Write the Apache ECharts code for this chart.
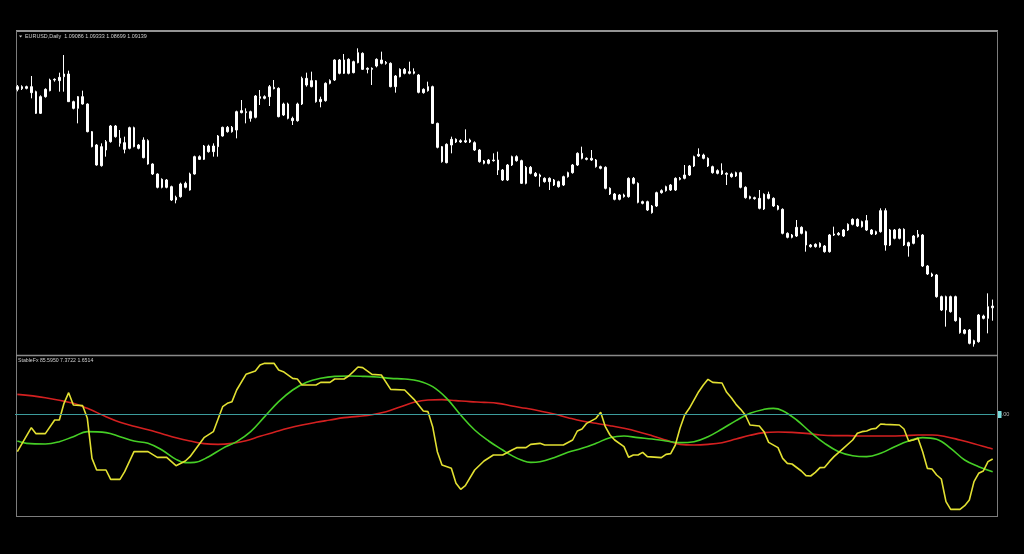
<!DOCTYPE html>
<html><head><meta charset="utf-8">
<script src="https://cdn.jsdelivr.net/npm/echarts@6/dist/echarts.min.js"></script>
<style>html,body{margin:0;padding:0;background:#000;}#c{width:1024px;height:554px;}</style>
</head><body><div id="c"></div>
<script>
const titleText = 'EURUSD,Daily  1.09086 1.09333 1.08699 1.09139';
const indicatorText = 'StableFx 85.5950 7.3722 1.6514';
const levelLabel = '0.00';
const levelValue = 0;

const opens = [
1.1564,1.1572,1.1567,1.1572,1.1557,1.1492,1.1542,1.1560,1.1592,1.1590,
1.1602,1.1610,1.1527,1.1507,1.1542,1.1520,1.1437,1.1397,1.1335,1.1382,
1.1407,1.1454,1.1417,1.1404,1.1387,1.1449,1.1397,1.1359,1.1410,1.1340,
1.1310,1.1270,1.1292,1.1272,1.1232,1.1242,1.1270,1.1262,1.1310,1.1362,
1.1354,1.1394,1.1377,1.1392,1.1424,1.1450,1.1437,1.1442,1.1494,1.1497,
1.1497,1.1480,1.1542,1.1537,1.1542,1.1570,1.1567,1.1487,1.1520,1.1477,
1.1470,1.1520,1.1597,1.1572,1.1590,1.1527,1.1530,1.1582,1.1592,1.1652,
1.1612,1.1654,1.1614,1.1644,1.1672,1.1624,1.1627,1.1634,1.1652,1.1642,
1.1642,1.1572,1.1602,1.1624,1.1612,1.1617,1.1607,1.1554,1.1560,1.1572,
1.1462,1.1392,1.1344,1.1397,1.1414,1.1406,1.1410,1.1406,1.1404,1.1382,
1.1349,1.1342,1.1352,1.1352,1.1322,1.1292,1.1337,1.1362,1.1350,1.1282,
1.1330,1.1312,1.1307,1.1297,1.1287,1.1292,1.1287,1.1277,1.1302,1.1314,
1.1337,1.1372,1.1357,1.1352,1.1352,1.1332,1.1330,1.1267,1.1250,1.1234,
1.1247,1.1242,1.1297,1.1282,1.1227,1.1227,1.1214,1.1214,1.1254,1.1260,
1.1277,1.1262,1.1297,1.1297,1.1307,1.1334,1.1364,1.1367,1.1357,1.1332,
1.1320,1.1310,1.1312,1.1310,1.1304,1.1314,1.1270,1.1242,1.1239,1.1237,
1.1205,1.1249,1.1237,1.1214,1.1204,1.1132,1.1120,1.1124,1.1150,1.1137,
1.1097,1.1092,1.1102,1.1094,1.1077,1.1127,1.1128,1.1124,1.1142,1.1159,
1.1174,1.1152,1.1170,1.1142,1.1130,1.1137,1.1200,1.1097,1.1142,1.1117,
1.1144,1.1104,1.1102,1.1122,1.1127,1.1034,1.1010,1.1007,1.0942,1.0902,
1.0942,1.0942,1.0877,1.0842,1.0842,1.0800,1.0807,1.0884,1.0877,1.09086];

const closes = [
1.1572,1.1566,1.1572,1.1554,1.1492,1.1542,1.1564,1.1592,1.1594,1.1600,
1.1610,1.1527,1.1507,1.1542,1.1520,1.1437,1.1392,1.1337,1.1392,1.1407,
1.1454,1.1422,1.1402,1.1384,1.1449,1.1392,1.1387,1.1412,1.1340,1.1310,
1.1270,1.1294,1.1270,1.1232,1.1240,1.1280,1.1282,1.1310,1.1362,1.1354,
1.1394,1.1377,1.1394,1.1424,1.1450,1.1437,1.1450,1.1497,1.1500,1.1494,
1.1477,1.1544,1.1537,1.1542,1.1572,1.1566,1.1482,1.1520,1.1477,1.1470,
1.1520,1.1597,1.1577,1.1590,1.1527,1.1534,1.1582,1.1590,1.1652,1.1612,
1.1652,1.1612,1.1647,1.1674,1.1624,1.1627,1.1624,1.1654,1.1642,1.1645,
1.1572,1.1604,1.1624,1.1612,1.1617,1.1612,1.1555,1.1564,1.1572,1.1462,
1.1390,1.1347,1.1399,1.1414,1.1406,1.1410,1.1406,1.1412,1.1382,1.1347,
1.1342,1.1352,1.1350,1.1322,1.1292,1.1337,1.1362,1.1350,1.1282,1.1330,
1.1312,1.1304,1.1302,1.1287,1.1297,1.1277,1.1272,1.1302,1.1314,1.1337,
1.1372,1.1357,1.1354,1.1357,1.1332,1.1327,1.1267,1.1250,1.1234,1.1247,
1.1242,1.1297,1.1282,1.1225,1.1222,1.1202,1.1194,1.1254,1.1260,1.1272,
1.1262,1.1297,1.1294,1.1307,1.1334,1.1362,1.1369,1.1357,1.1334,1.1314,
1.1312,1.1320,1.1309,1.1302,1.1314,1.1270,1.1239,1.1237,1.1236,1.1207,
1.1249,1.1237,1.1214,1.1204,1.1132,1.1120,1.1127,1.1150,1.1132,1.1097,
1.1092,1.1099,1.1092,1.1077,1.1127,1.1130,1.1132,1.1142,1.1159,1.1174,
1.1154,1.1167,1.1142,1.1130,1.1137,1.1200,1.1097,1.1142,1.1117,1.1144,
1.1097,1.1094,1.1124,1.1129,1.1034,1.1010,1.1004,1.0942,1.0902,1.0942,
1.0897,1.0870,1.0834,1.0832,1.0802,1.0810,1.0887,1.0877,1.0912,1.09139];

const lows = [
1.1558,1.1562,1.1564,1.1537,1.1490,1.1490,1.1539,1.1558,1.1587,1.1557,
1.1557,1.1526,1.1504,1.1462,1.1518,1.1435,1.1390,1.1335,1.1332,1.1362,
1.1404,1.1419,1.1392,1.1372,1.1384,1.1390,1.1384,1.1357,1.1338,1.1307,
1.1267,1.1267,1.1267,1.1229,1.1222,1.1239,1.1267,1.1260,1.1308,1.1352,
1.1352,1.1374,1.1362,1.1362,1.1422,1.1434,1.1434,1.1417,1.1492,1.1462,
1.1467,1.1477,1.1517,1.1534,1.1514,1.1564,1.1480,1.1484,1.1474,1.1457,
1.1467,1.1517,1.1572,1.1570,1.1524,1.1510,1.1527,1.1579,1.1589,1.1609,
1.1610,1.1609,1.1612,1.1642,1.1622,1.1612,1.1577,1.1630,1.1639,1.1638,
1.1570,1.1554,1.1600,1.1609,1.1609,1.1609,1.1552,1.1551,1.1557,1.1460,
1.1387,1.1344,1.1342,1.1372,1.1403,1.1403,1.1403,1.1403,1.1379,1.1344,
1.1339,1.1339,1.1347,1.1307,1.1289,1.1289,1.1334,1.1347,1.1280,1.1279,
1.1309,1.1301,1.1272,1.1284,1.1262,1.1274,1.1269,1.1274,1.1299,1.1311,
1.1334,1.1354,1.1351,1.1349,1.1329,1.1324,1.1264,1.1247,1.1231,1.1231,
1.1239,1.1239,1.1279,1.1222,1.1219,1.1199,1.1191,1.1211,1.1251,1.1257,
1.1259,1.1259,1.1291,1.1294,1.1304,1.1331,1.1361,1.1354,1.1331,1.1311,
1.1309,1.1307,1.1277,1.1299,1.1301,1.1267,1.1236,1.1234,1.1233,1.1204,
1.1202,1.1234,1.1211,1.1201,1.1129,1.1117,1.1117,1.1121,1.1129,1.1077,
1.1089,1.1089,1.1089,1.1074,1.1074,1.1124,1.1125,1.1121,1.1139,1.1156,
1.1151,1.1149,1.1139,1.1127,1.1127,1.1134,1.1080,1.1094,1.1114,1.1114,
1.1094,1.1062,1.1099,1.1119,1.1031,1.1007,1.1001,1.0939,1.0899,1.0852,
1.0894,1.0867,1.0831,1.0829,1.0799,1.0792,1.0804,1.0874,1.0832,1.08699];

const highs = [
1.1577,1.1576,1.1575,1.1604,1.1560,1.1546,1.1567,1.1596,1.1597,1.1614,
1.1667,1.1620,1.1530,1.1544,1.1560,1.1522,1.1439,1.1400,1.1402,1.1412,
1.1457,1.1457,1.1442,1.1422,1.1452,1.1452,1.1400,1.1420,1.1414,1.1342,
1.1312,1.1297,1.1295,1.1275,1.1245,1.1284,1.1287,1.1314,1.1365,1.1366,
1.1397,1.1398,1.1402,1.1427,1.1452,1.1454,1.1454,1.1500,1.1532,1.1507,
1.1500,1.1547,1.1562,1.1546,1.1577,1.1592,1.1570,1.1524,1.1524,1.1482,
1.1524,1.1602,1.1614,1.1617,1.1592,1.1542,1.1585,1.1594,1.1654,1.1655,
1.1670,1.1657,1.1650,1.1687,1.1675,1.1630,1.1630,1.1657,1.1677,1.1649,
1.1645,1.1607,1.1627,1.1628,1.1647,1.1627,1.1610,1.1567,1.1587,1.1575,
1.1464,1.1394,1.1402,1.1422,1.1417,1.1414,1.1444,1.1416,1.1408,1.1385,
1.1352,1.1355,1.1372,1.1377,1.1325,1.1340,1.1365,1.1366,1.1353,1.1334,
1.1334,1.1316,1.1311,1.1300,1.1300,1.1295,1.1290,1.1305,1.1317,1.1340,
1.1375,1.1392,1.1360,1.1382,1.1355,1.1335,1.1333,1.1270,1.1253,1.1250,
1.1251,1.1300,1.1301,1.1285,1.1230,1.1230,1.1217,1.1257,1.1264,1.1275,
1.1280,1.1300,1.1301,1.1337,1.1337,1.1365,1.1387,1.1371,1.1360,1.1335,
1.1324,1.1342,1.1315,1.1314,1.1317,1.1317,1.1273,1.1245,1.1242,1.1262,
1.1252,1.1257,1.1240,1.1217,1.1207,1.1135,1.1130,1.1172,1.1153,1.1140,
1.1100,1.1102,1.1105,1.1097,1.1130,1.1152,1.1136,1.1145,1.1162,1.1177,
1.1177,1.1170,1.1187,1.1145,1.1140,1.1207,1.1207,1.1145,1.1145,1.1147,
1.1147,1.1107,1.1127,1.1142,1.1130,1.1037,1.1014,1.1010,1.0945,1.0945,
1.0945,1.0945,1.0880,1.0845,1.0845,1.0813,1.0890,1.0888,1.0952,1.09333];

// indicator lines: [bar index, value]
const yellowLine = [[0,-113],[3,-41],[4,-59],[6,-59],[8,-18],[9,-18],[10,32],[11,64],[12,27],[14,25],[15,-13],[16,-133],[17,-168],[19,-168],[20,-196],[22,-196],[23,-173],[25,-113],[28,-113],[30,-130],[32,-130],[34,-155],[36,-141],[37,-128],[40,-71],[42,-53],[44,22],[45,32],[46,37],[47,72],[49,119],[51,129],[52,147],[53,152],[55,152],[56,132],[57,127],[59,107],[60,105],[61,87],[64,87],[65,95],[67,95],[68,105],[70,105],[71,114],[72,127],[73,141],[74,139],[76,119],[78,117],[80,74],[83,72],[85,44],[87,9],[88,7],[89,-38],[90,-113],[91,-153],[93,-163],[94,-208],[95,-226],[96,-215],[98,-168],[100,-141],[102,-123],[104,-123],[106,-108],[107,-101],[109,-101],[110,-91],[112,-88],[113,-93],[117,-93],[119,-78],[120,-51],[121,-45],[122,-28],[124,-13],[125,5],[126,-38],[127,-63],[128,-78],[130,-98],[131,-130],[132,-123],[133,-123],[134,-115],[135,-128],[138,-131],[139,-121],[140,-119],[141,-93],[142,-43],[143,-3],[144,17],[146,67],[147,87],[148,104],[149,95],[151,93],[152,65],[153,49],[154,29],[155,14],[156,-3],[157,-33],[159,-36],[160,-53],[161,-85],[163,-101],[164,-133],[165,-148],[166,-150],[168,-171],[169,-185],[170,-186],[171,-175],[172,-161],[173,-160],[174,-143],[175,-128],[177,-103],[179,-78],[180,-58],[181,-53],[182,-51],[183,-45],[184,-43],[185,-30],[186,-31],[189,-33],[190,-45],[191,-81],[192,-78],[193,-73],[194,-113],[195,-163],[196,-165],[197,-183],[198,-195],[199,-263],[200,-286],[202,-286],[203,-275],[204,-258],[205,-203],[206,-178],[207,-171],[208,-143],[209,-135]];

const greenLine = [[0,-81],[2,-88],[6,-90],[9,-83],[12,-68],[15,-53],[19,-56],[22,-68],[25,-81],[28,-88],[31,-108],[34,-136],[36,-146],[38,-145],[41,-128],[44,-103],[47,-83],[50,-53],[53,-8],[56,37],[59,72],[62,95],[65,107],[68,113],[71,114],[74,113],[77,111],[80,107],[83,105],[86,99],[89,82],[92,47],[95,-3],[98,-48],[101,-81],[104,-108],[106,-125],[108,-138],[110,-145],[112,-143],[115,-131],[118,-115],[121,-103],[124,-88],[127,-71],[130,-66],[133,-71],[136,-75],[139,-81],[142,-86],[145,-83],[148,-68],[151,-45],[154,-20],[157,2],[160,14],[162,17],[164,10],[167,-18],[170,-55],[173,-88],[176,-113],[179,-125],[182,-128],[185,-118],[188,-98],[191,-81],[194,-71],[197,-76],[200,-103],[203,-138],[206,-158],[209,-173]];

const redLine = [[0,59],[6,49],[12,32],[15,17],[19,-8],[22,-25],[25,-37],[28,-47],[31,-59],[34,-71],[37,-81],[40,-89],[43,-91],[46,-88],[49,-80],[52,-67],[55,-55],[58,-43],[61,-33],[64,-25],[67,-18],[70,-11],[73,-7],[76,-2],[79,7],[82,21],[85,35],[88,42],[91,43],[94,40],[97,37],[100,35],[103,32],[106,24],[109,17],[112,9],[115,0],[118,-11],[121,-21],[124,-28],[127,-35],[130,-43],[133,-53],[136,-65],[139,-78],[142,-91],[145,-93],[148,-91],[151,-86],[154,-75],[157,-64],[160,-56],[163,-54],[166,-55],[169,-58],[172,-63],[175,-65],[178,-65],[181,-66],[184,-66],[187,-66],[190,-65],[193,-63],[196,-63],[199,-68],[202,-78],[205,-89],[208,-101],[209,-105]];

const bars = opens.map((_, i) => String(i));
const candles = opens.map((o, i) => [o, closes[i], lows[i], highs[i]]);

const chart = echarts.init(document.getElementById('c'), null, {renderer: 'canvas'});
const font = '"Liberation Sans", Arial, sans-serif';
const frame = '#7c7c7c';
chart.setOption({
  backgroundColor: '#000',
  animation: false,
  grid: [
    {left: 15, top: 32, width: 980, height: 323},
    {left: 15, top: 356, width: 980, height: 161}
  ],
  xAxis: [
    {type: 'category', data: bars, gridIndex: 0, boundaryGap: true, show: false},
    {type: 'category', data: bars, gridIndex: 1, boundaryGap: true, show: false}
  ],
  yAxis: [
    {type: 'value', gridIndex: 0, min: 1.0767, max: 1.1736, show: false},
    {type: 'value', gridIndex: 1, min: -309, max: 174, show: false}
  ],
  series: [
    {
      type: 'candlestick', xAxisIndex: 0, yAxisIndex: 0, data: candles,
      barWidth: 2.4,
      itemStyle: {color: '#ffffff', color0: '#ffffff', borderColor: '#ffffff', borderColor0: '#ffffff', borderWidth: 1}
    },
    {
      type: 'line', xAxisIndex: 1, yAxisIndex: 1, data: redLine, smooth: 0.4,
      showSymbol: false, lineStyle: {color: '#d42020', width: 1.6},
      markLine: {
        silent: true, symbol: 'none', label: {show: false},
        lineStyle: {color: '#3c9c9c', width: 1, type: 'solid'},
        data: [{yAxis: levelValue}]
      }
    },
    {
      type: 'line', xAxisIndex: 1, yAxisIndex: 1, data: greenLine, smooth: 0.4,
      showSymbol: false, lineStyle: {color: '#46cf26', width: 1.6}
    },
    {
      type: 'line', xAxisIndex: 1, yAxisIndex: 1, data: yellowLine,
      showSymbol: false, lineStyle: {color: '#e2e032', width: 1.6}
    }
  ],
  graphic: [
    {type: 'line', silent: true, z: 0, shape: {x1: 16, y1: 31, x2: 998, y2: 31}, style: {stroke: '#949494', lineWidth: 2}},
    {type: 'line', silent: true, z: 0, shape: {x1: 16.5, y1: 31, x2: 16.5, y2: 517}, style: {stroke: frame, lineWidth: 1}},
    {type: 'line', silent: true, z: 0, shape: {x1: 997.5, y1: 31, x2: 997.5, y2: 517}, style: {stroke: frame, lineWidth: 1}},
    {type: 'line', silent: true, z: 0, shape: {x1: 16, y1: 355.5, x2: 998, y2: 355.5}, style: {stroke: '#8a8a8a', lineWidth: 1.5}},
    {type: 'line', silent: true, z: 0, shape: {x1: 16, y1: 516.5, x2: 998, y2: 516.5}, style: {stroke: frame, lineWidth: 1}},
    {type: 'polygon', silent: true, shape: {points: [[19, 35.5], [22.2, 35.5], [20.6, 37.6]]}, style: {fill: '#d0d0d0'}},
    {type: 'text', silent: true, x: 25, y: 37, style: {text: titleText, fill: '#d0d0d0', font: '5.4px ' + font, textVerticalAlign: 'middle'}},
    {type: 'text', silent: true, x: 18, y: 361, style: {text: indicatorText, fill: '#d0d0d0', font: '5.2px ' + font, textVerticalAlign: 'middle'}},
    {type: 'text', silent: true, x: 998.5, y: 414.5, z: 10, style: {text: levelLabel, fill: '#b0b0b0', font: '5.6px ' + font, textVerticalAlign: 'middle'}},
    {type: 'rect', silent: true, z: 11, shape: {x: 998, y: 411, width: 3.5, height: 7}, style: {fill: '#78dcdc'}}
  ]
});
</script>
</body></html>
